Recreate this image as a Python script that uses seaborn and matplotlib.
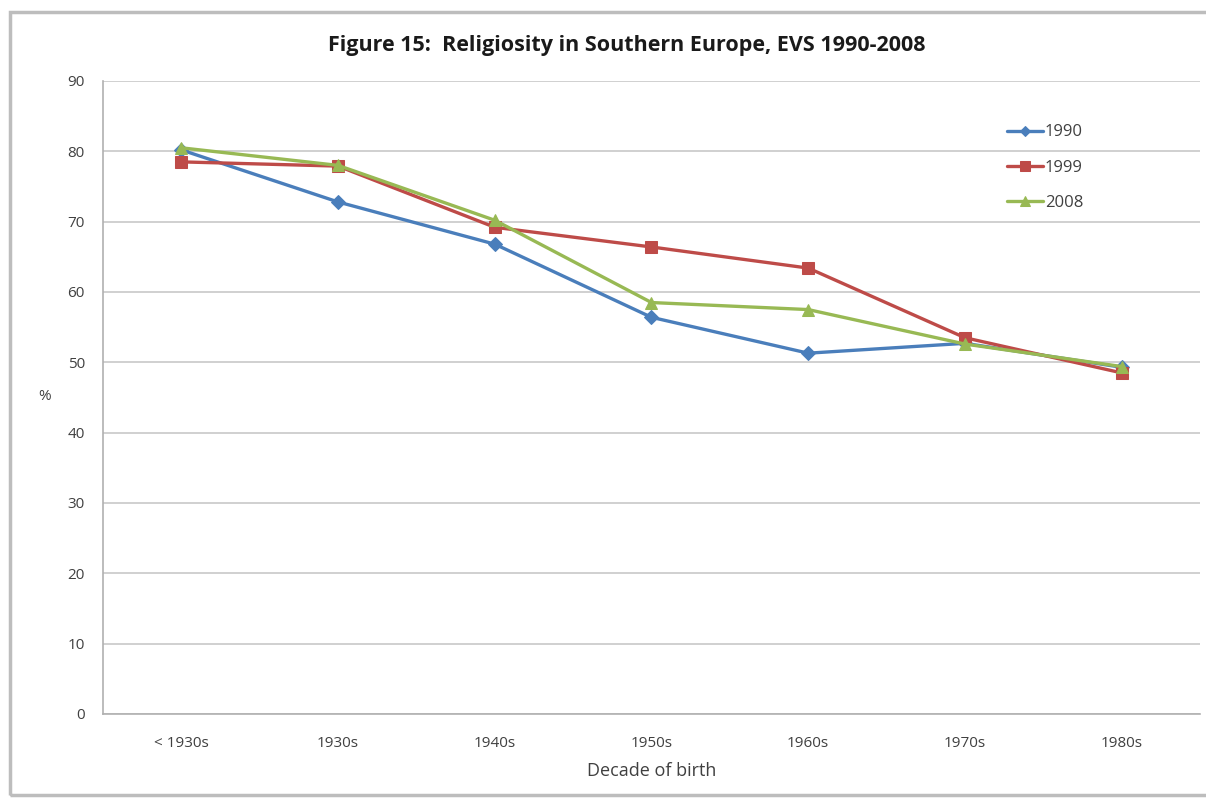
import matplotlib
matplotlib.use("Agg")
import matplotlib.pyplot as plt
from matplotlib.patches import Rectangle
import numpy as np
import pandas as pd
import seaborn as sns

decades = ["< 1930s", "1930s", "1940s", "1950s", "1960s", "1970s", "1980s"]
years = ["1990", "1999", "2008"]
vals_1990 = [80.2, 72.8, 66.8, 56.4, 51.3, 52.7, 49.3]
vals_1999 = [78.5, 77.9, 69.2, 66.4, 63.4, 53.5, 48.5]
vals_2008 = [80.5, 78.0, 70.2, 58.5, 57.5, 52.6, 49.4]

colors = {"1990": "#4A7EBB", "1999": "#BE4B48", "2008": "#98B954"}
markers = {"1990": "D", "1999": "s", "2008": "^"}
msizes = {"1990": 7, "1999": 9, "2008": 9}

df = pd.DataFrame({
    "pos": list(range(len(decades))) * 3,
    "value": vals_1990 + vals_1999 + vals_2008,
    "year": [y for y in years for _ in decades],
})

sns.set_theme(style="white")
plt.rcParams["font.family"] = ["Open Sans", "DejaVu Sans"]

fig = plt.figure(figsize=(12.06, 7.98), dpi=100)
ax = fig.add_axes([0.0854, 0.1053, 0.9096, 0.7932])

for y in years:
    sub = df[df["year"] == y]
    sns.lineplot(data=sub, x="pos", y="value", ax=ax, color=colors[y],
                 marker=markers[y], markersize=msizes[y], markeredgecolor=colors[y],
                 linewidth=2.4, label=y)

ax.set_xlim(-0.5, len(decades) - 0.5)
ax.set_ylim(0, 90)
ax.set_yticks(np.arange(0, 91, 10))
ax.set_xticks(range(len(decades)))
ax.set_xticklabels(decades)
ax.set_xticks(np.arange(-0.5, len(decades), 1.0), minor=True)
ax.tick_params(axis="x", which="major", length=0, pad=16, labelsize=11, colors="#404040")
ax.tick_params(axis="x", which="minor", length=5, width=1, color="#b0b0b0", direction="out")
ax.tick_params(axis="y", which="major", length=5, width=1, color="#b0b0b0",
               direction="out", pad=8, labelsize=11, labelcolor="#404040")
ax.yaxis.grid(True, color="#c8c8c8", linewidth=1.2)
ax.xaxis.grid(False)
for side in ["top", "right"]:
    ax.spines[side].set_visible(False)
for side in ["left", "bottom"]:
    ax.spines[side].set_color("#b0b0b0")
    ax.spines[side].set_linewidth(1.2)

ax.set_xlabel("Decade of birth", fontsize=13, color="#404040", labelpad=8)
ax.set_ylabel("%", fontsize=11, color="#404040", rotation=0, labelpad=30)
ax.yaxis.set_label_coords(-0.053, 0.49)
fig.text(627 / 1206, 1 - 45 / 798,
         "Figure 15:  Religiosity in Southern Europe, EVS 1990-2008",
         ha="center", va="center", fontsize=15.5, fontweight="bold", color="#1a1a1a")

leg = ax.legend(loc="upper left", bbox_to_anchor=(0.81, 0.955), frameon=False,
                fontsize=12, handlelength=2.2, labelspacing=1.15,
                handletextpad=0.1, markerscale=0.75)
for t in leg.get_texts():
    t.set_color("#404040")

fig.patches.append(Rectangle((10 / 1206, 3 / 798), 1.2, 783 / 798,
                             transform=fig.transFigure, fill=False,
                             edgecolor="#bdbdbd", linewidth=2.5))

fig.savefig("out.png", dpi=100, facecolor="white")
